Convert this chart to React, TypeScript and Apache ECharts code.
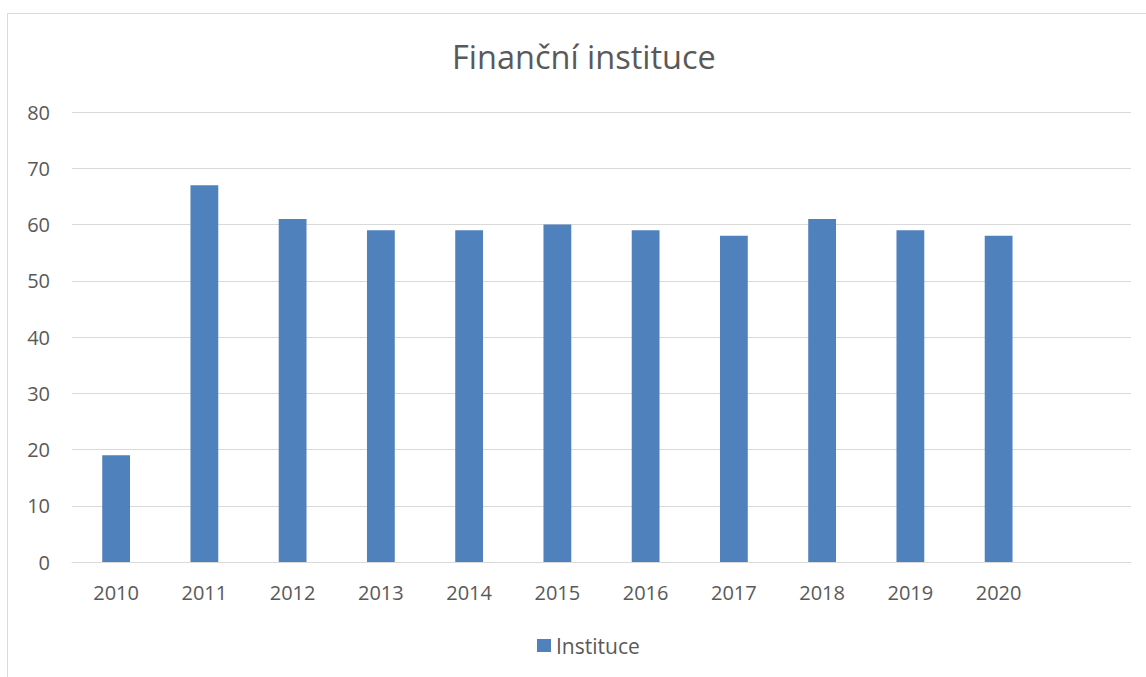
import React, { useEffect, useRef } from "react";
import * as echarts from "echarts";

const categories = ["2010", "2011", "2012", "2013", "2014", "2015", "2016", "2017", "2018", "2019", "2020", ""];
const values = [19, 67, 61, 59, 59, 60, 59, 58, 61, 59, 58, null];
const seriesName = "Instituce";
const title = "Finanční instituce";

export default function App() {
  const ref = useRef<HTMLDivElement>(null);
  useEffect(() => {
    if (!ref.current) return;
    const chart = echarts.init(ref.current, null, { renderer: "svg" });
    const font = "'Open Sans', sans-serif";
    chart.setOption({
      animation: false,
      backgroundColor: "#ffffff",
      textStyle: { fontFamily: font },
      title: {
        text: title,
        left: 447,
        top: 35,
        textStyle: { fontFamily: font, fontSize: 32.5, fontWeight: "normal", color: "#595959" },
      },
      graphic: [
        {
          type: "rect",
          shape: { x: 7.5, y: 13.5, width: 1160, height: 700 },
          style: { fill: "none", stroke: "#d9d9d9", lineWidth: 1 },
          silent: true,
        },
      ],
      legend: {
        data: [seriesName],
        top: 630,
        left: 532,
        itemWidth: 14,
        itemHeight: 13,
        itemGap: 6,
        icon: "rect",
        textStyle: { fontFamily: font, fontSize: 21, color: "#595959" },
      },
      grid: { left: 72, right: 15, top: 112, bottom: 115, containLabel: false },
      xAxis: {
        type: "category",
        data: categories,
        axisLine: { show: true, lineStyle: { color: "#d9d9d9", width: 1 } },
        axisTick: { show: false },
        axisLabel: { fontFamily: font, fontSize: 20, color: "#595959", margin: 20, interval: 0 },
      },
      yAxis: {
        type: "value",
        min: 0,
        max: 80,
        interval: 10,
        axisLine: { show: false },
        axisTick: { show: false },
        splitLine: { lineStyle: { color: "#d9d9d9", width: 1 } },
        axisLabel: { fontFamily: font, fontSize: 20, color: "#595959", margin: 22 },
      },
      series: [
        {
          name: seriesName,
          type: "bar",
          data: values,
          barWidth: "31.5%",
          itemStyle: { color: "#4f81bd" },
        },
      ],
    });
    return () => chart.dispose();
  }, []);
  return (
    <div
      ref={ref}
      style={{ position: "fixed", left: 0, top: 0, width: 1146, height: 677 }}
    />
  );
}
